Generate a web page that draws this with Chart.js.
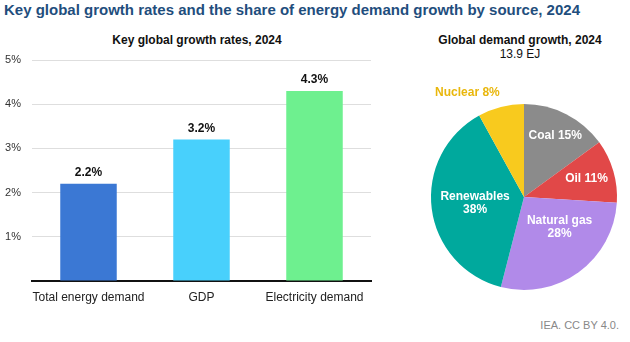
<!DOCTYPE html>
<html>
<head>
<meta charset="utf-8">
<script src="https://cdn.jsdelivr.net/npm/chart.js@4"></script>
<style>
  html, body { margin: 0; padding: 0; background: #fff; }
  body { width: 630px; height: 342px; position: relative; overflow: hidden; font-family: "Liberation Sans", Arial, sans-serif; }
  .txt { position: absolute; white-space: nowrap; }
  #title { left: 4px; top: 1px; font-size: 15px; font-weight: bold; color: #1f4e7d; line-height: 17px; }
  #barTitle { left: 97px; width: 200px; top: 33px; text-align: center; font-size: 12px; font-weight: bold; color: #111; line-height: 15px; }
  #pieTitle { left: 420px; width: 200px; top: 33px; text-align: center; font-size: 12px; color: #111; line-height: 14px; }
  #pieTitle b { display: block; }
  #source { right: 11px; top: 318px; font-size: 11px; color: #888; line-height: 14px; }
  #barWrap { position: absolute; left: 0; top: 0; width: 380px; height: 320px; }
  #pieWrap { position: absolute; left: 409px; top: 82px; width: 221px; height: 230px; }
</style>
</head>
<body>
<div class="txt" id="title">Key global growth rates and the share of energy demand growth by source, 2024</div>
<div class="txt" id="barTitle">Key global growth rates, 2024</div>
<div class="txt" id="pieTitle"><b>Global demand growth, 2024</b>13.9 EJ</div>
<div class="txt" id="source">IEA. CC BY 4.0.</div>
<div id="barWrap"><canvas id="barChart"></canvas></div>
<div id="pieWrap"><canvas id="pieChart"></canvas></div>
<script>
// Taxas de crescimento (%)
const growthLabels = ['Total energy demand', 'GDP', 'Electricity demand'];
const growthValues = [2.2, 3.2, 4.3];
const growthColors = ['#3b78d4', '#48d0fc', '#6ef08f'];
const yTicks = [0, 1, 2, 3, 4, 5];

// Parcela do crescimento da demanda por fonte (%)
const sourceLabels = ['Coal', 'Oil', 'Natural gas', 'Renewables', 'Nuclear'];
const sourceShares = [15, 11, 28, 38, 8];
const sourceColors = ['#8b8b8b', '#e14848', '#b18ae9', '#00a99d', '#f8ca1e'];

const FONT = '"Liberation Sans", Arial, sans-serif';

// rótulos em cima das barras
const barLabels = {
    id: 'barLabels',
    afterDatasetsDraw(chart) {
        const ctx = chart.ctx;
        const meta = chart.getDatasetMeta(0);
        ctx.save();
        ctx.font = 'bold 12px ' + FONT;
        ctx.fillStyle = '#111';
        ctx.textAlign = 'center';
        ctx.textBaseline = 'middle';
        meta.data.forEach((bar, i) => {
            ctx.fillText(growthValues[i].toFixed(1) + '%', bar.x, bar.y - 11);
        });
        ctx.restore();
    }
};

// rótulos das fatias
const pieRadius = [0.74, 0.70, 0.50, 0.53, 1.28];
const pieShift = [0, 0, -14, 0, -14];
const pieWrap = [false, false, true, true, false];
const pieLabels = {
    id: 'pieLabels',
    afterDatasetsDraw(chart) {
        const ctx = chart.ctx;
        const meta = chart.getDatasetMeta(0);
        ctx.save();
        ctx.font = 'bold 12px ' + FONT;
        ctx.textAlign = 'center';
        ctx.textBaseline = 'middle';
        meta.data.forEach((arc, i) => {
            const mid = (arc.startAngle + arc.endAngle) / 2 + pieShift[i] * Math.PI / 180;
            const r = arc.outerRadius * pieRadius[i];
            const x = arc.x + Math.cos(mid) * r;
            const y = arc.y + Math.sin(mid) * r;
            ctx.fillStyle = pieRadius[i] > 1 ? '#e9b70c' : '#fff';
            if (pieWrap[i]) {
                ctx.fillText(sourceLabels[i], x, y - 6.5);
                ctx.fillText(sourceShares[i] + '%', x, y + 6.5);
            } else {
                ctx.fillText(sourceLabels[i] + ' ' + sourceShares[i] + '%', x, y);
            }
        });
        ctx.restore();
    }
};

new Chart(document.getElementById('barChart'), {
    type: 'bar',
    data: {
        labels: growthLabels,
        datasets: [{
            data: growthValues,
            backgroundColor: growthColors,
            borderWidth: 0,
            categoryPercentage: 1,
            barPercentage: 0.5
        }]
    },
    options: {
        responsive: true,
        maintainAspectRatio: false,
        animation: false,
        layout: { padding: { top: 60, right: 9, bottom: 0, left: 0 } },
        plugins: { legend: { display: false }, tooltip: { enabled: false } },
        scales: {
            y: {
                min: yTicks[0],
                max: yTicks[yTicks.length - 1],
                afterFit: s => { s.width = 32; },
                afterBuildTicks: s => { s.ticks = yTicks.map(v => ({ value: v })); },
                ticks: {
                    padding: 11,
                    color: '#333',
                    font: { family: FONT, size: 11 },
                    callback: v => v === 0 ? '' : v + '%'
                },
                grid: { color: '#dedede', drawTicks: false },
                border: { display: false }
            },
            x: {
                afterFit: s => { s.height = 39; },
                ticks: {
                    padding: 1,
                    maxRotation: 0,
                    minRotation: 0,
                    autoSkip: false,
                    color: '#222',
                    font: { family: FONT, size: 12 }
                },
                grid: { display: false },
                border: { color: '#111', width: 2 }
            }
        }
    },
    plugins: [barLabels]
});

new Chart(document.getElementById('pieChart'), {
    type: 'pie',
    data: {
        labels: sourceLabels,
        datasets: [{
            data: sourceShares,
            backgroundColor: sourceColors,
            borderWidth: 0
        }]
    },
    options: {
        responsive: true,
        maintainAspectRatio: false,
        animation: false,
        layout: { padding: { top: 22, bottom: 22, left: 22, right: 13 } },
        plugins: { legend: { display: false }, tooltip: { enabled: false } }
    },
    plugins: [pieLabels]
});
</script>
</body>
</html>
